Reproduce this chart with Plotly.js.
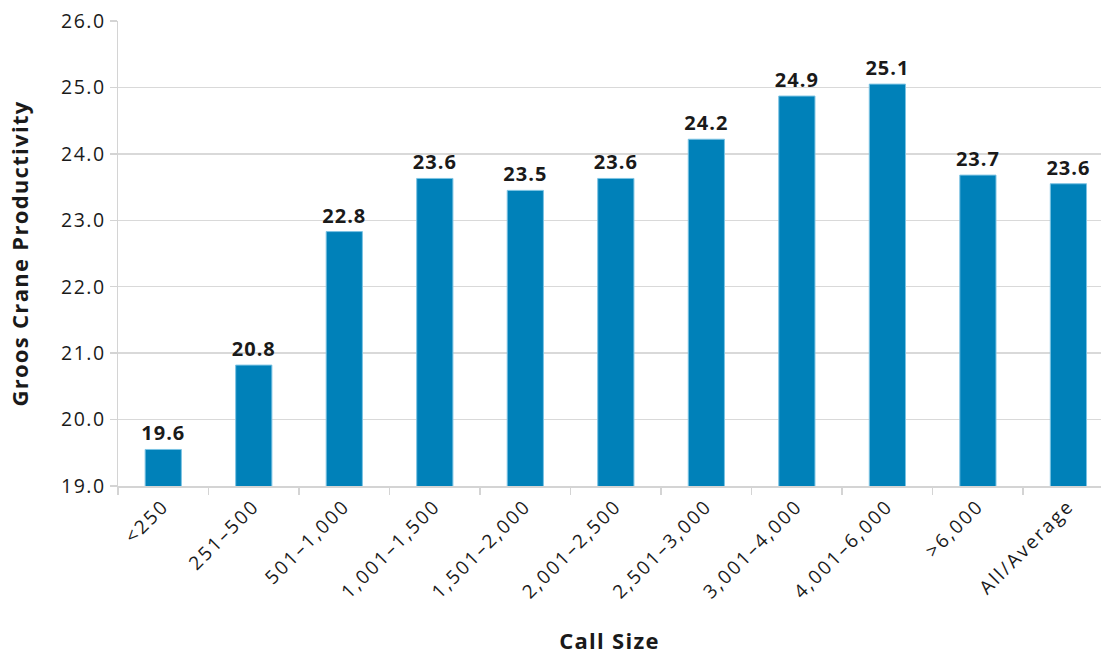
<!DOCTYPE html>
<html>
<head>
<meta charset="utf-8">
<script src="https://cdn.plot.ly/plotly-3.0.1.min.js"></script>
<style>
html,body{margin:0;padding:0;overflow:hidden;background:#fff}
.xtick text{letter-spacing:2.2px}
.ytick text{letter-spacing:1.5px}
.bartext{letter-spacing:1px}
.g-xtitle text,.g-ytitle text{letter-spacing:1.3px}
</style>
</head>
<body>
<div id="chart" style="width:1101px;height:655px"></div>
<script>
const categories = ["<250","251–500","501–1,000","1,001–1,500","1,501–2,000","2,001–2,500","2,501–3,000","3,001–4,000","4,001–6,000",">6,000","All/Average"];
const values = [19.55, 20.82, 22.83, 23.63, 23.45, 23.63, 24.22, 24.87, 25.05, 23.68, 23.55];
const labels = ["19.6","20.8","22.8","23.6","23.5","23.6","24.2","24.9","25.1","23.7","23.6"];
const yTicks = [19,20,21,22,23,24,25,26];

const FONT = "'Open Sans', 'DejaVu Sans', sans-serif";

Plotly.newPlot("chart", [{
  type: "bar",
  x: categories,
  y: values,
  text: labels,
  texttemplate: "<b>%{text}</b>",
  textposition: "outside",
  constraintext: "none",
  cliponaxis: false,
  textfont: {family: FONT, size: 20, color: "#1a1a1a"},
  marker: {color: "#0081b9", line: {color: "#7cc3e3", width: 1}},
  width: 0.4,
  hoverinfo: "x+y"
}], {
  width: 1101, height: 655,
  margin: {l: 118, r: 0, t: 21, b: 169},
  paper_bgcolor: "#fff", plot_bgcolor: "#fff",
  showlegend: false,
  font: {family: FONT, color: "#1a1a1a"},
  xaxis: {
    type: "category",
    range: [-0.5, 10.36],
    tickangle: -45,
    tickfont: {family: FONT, size: 19, color: "#1a1a1a"},
    ticks: "outside", tickson: "boundaries", ticklen: 7, tickcolor: "#d4d4d4", tickwidth: 1.5,
    showline: true, linecolor: "#d4d4d4", linewidth: 1.5,
    showgrid: false,
    title: {text: "<b>Call Size</b>", font: {family: FONT, size: 22, color: "#1a1a1a"}, standoff: 30}
  },
  yaxis: {
    range: [19, 26],
    tickvals: yTicks,
    tickformat: ".1f",
    tickfont: {family: FONT, size: 19.5, color: "#1a1a1a"},
    ticks: "outside", ticklen: 7, tickcolor: "#d4d4d4", tickwidth: 1.5,
    showgrid: true, gridcolor: "#d9d9d9", gridwidth: 1.5,
    showline: true, linecolor: "#d4d4d4", linewidth: 1.5,
    zeroline: false,
    title: {text: "<b>Groos Crane Productivity</b>", font: {family: FONT, size: 22, color: "#1a1a1a"}, standoff: 26}
  }
}, {displayModeBar: false, staticPlot: true});
</script>
</body>
</html>
